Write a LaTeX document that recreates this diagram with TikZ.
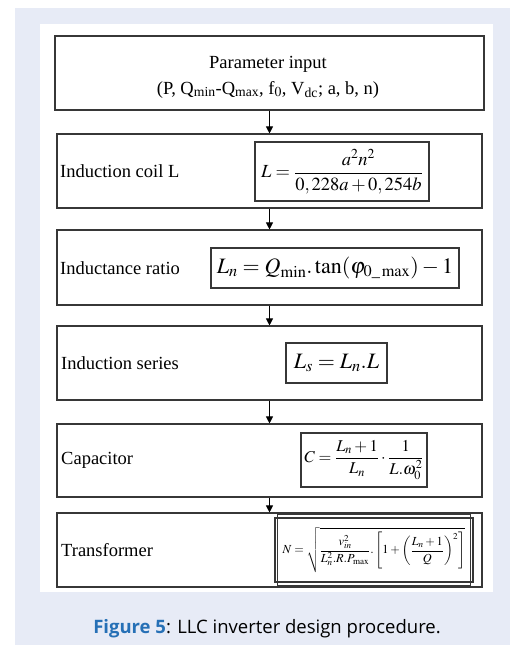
\documentclass[tikz,border=0pt]{standalone}
\usepackage{mathptmx}
\usepackage{amsmath}
\usepackage{fontspec}
\setmainfont{Liberation Serif}
\newfontfamily\capfont{Open Sans}
\usetikzlibrary{arrows.meta}
\definecolor{bgblue}{RGB}{231,235,246}
\definecolor{capblue}{RGB}{38,112,182}
\definecolor{linegray}{RGB}{55,55,55}
\tikzset{
  stagebox/.style={draw=linegray, line width=1.1pt, minimum width=425pt, minimum height=74pt, inner sep=0pt},
  formbox/.style={draw=linegray, line width=1.1pt, inner sep=0pt},
  lbl/.style={anchor=west, inner sep=0pt, font=\fontsize{18.5}{21}\selectfont},
  flow/.style={draw=black, line width=1pt, -{Triangle[length=7pt,width=7pt]}}
}
\begin{document}
\begin{tikzpicture}[x=1pt,y=-1pt]
\useasboundingbox (0,0) rectangle (525,652);
\fill[white] (0,0) rectangle (525,652);
\fill[bgblue] (15,8) rectangle (510,645);
\fill[white] (40,24) rectangle (493,592);

% stage boxes
\node[stagebox, minimum width=429pt] (b1) at (269.5,73) {};
\node[stagebox] (b2) at (269.5,171) {};
\node[stagebox, minimum height=75pt] (b3) at (269.5,267.5) {};
\node[stagebox] (b4) at (269.5,363) {};
\node[stagebox, minimum height=73pt] (b5) at (269.5,460.5) {};
\node[stagebox] (b6) at (269.5,550) {};

% labels
\node[align=center, inner sep=0pt, font=\fontsize{18.5}{26}\selectfont] (t1) at (268,77)
  {Parameter input\\(P, Q$_{\text{min}}$-Q$_{\text{max}}$, f$_0$, V$_{\text{dc}}$; a, b, n)};
\node[lbl] (t2) at (60,171) {Induction coil L};
\node[lbl] (t3) at (60,268) {Inductance ratio};
\node[lbl] (t4) at (61,363) {Induction series};
\node[lbl] (t5) at (61,460) {Capacitor};
\node[lbl] (t6) at (61,550) {Transformer};

% formulas
\node[formbox, minimum width=174pt, minimum height=59pt, font=\fontsize{18.5}{22}\selectfont] (f2) at (342,171.5)
  {$L=\dfrac{a^2n^2}{0,228a+0,254b}$};
\node[formbox, minimum width=248pt, minimum height=40pt, font=\fontsize{22}{26}\selectfont] (f3) at (335,268)
  {$L_n=Q_{\min}.\tan(\varphi_{0\_\max})-1$};
\node[formbox, minimum width=101pt, minimum height=40pt, font=\fontsize{22}{26}\selectfont] (f4) at (336.5,363)
  {$L_s=L_n.L$};
\node[formbox, minimum width=126pt, minimum height=54pt, font=\fontsize{16.5}{19}\selectfont] (f5) at (364,460)
  {$C=\dfrac{L_n+1}{L_n}\cdot\dfrac{1}{L.\omega_0^2}$};
\node[formbox, minimum width=198pt, minimum height=64pt, font=\fontsize{12.3}{14}\selectfont] (f6) at (374,550)
  {$N=\sqrt{\dfrac{v_{in}^2}{L_n^2.R.P_{\max}}.\left[1+\left(\dfrac{L_n+1}{Q}\right)^2\right]}$};
\draw[linegray, line width=0.5pt] ([shift={(3pt,-3pt)}]f6.south west) rectangle ([shift={(-3pt,3pt)}]f6.north east);

% connectors
\draw[flow] (b1.south) -- (b2.north);
\draw[flow] (b2.south) -- (b3.north);
\draw[flow] (b3.south) -- (b4.north);
\draw[flow] (b4.south) -- (b5.north);
\draw[flow] (b5.south) -- (b6.north);

% caption
\node[font=\capfont\fontsize{18.5}{21}\selectfont, inner sep=0pt] (cap) at (267,629)
  {\textcolor{capblue}{\bfseries Figure 5}: LLC inverter design procedure.};
\end{tikzpicture}
\end{document}
